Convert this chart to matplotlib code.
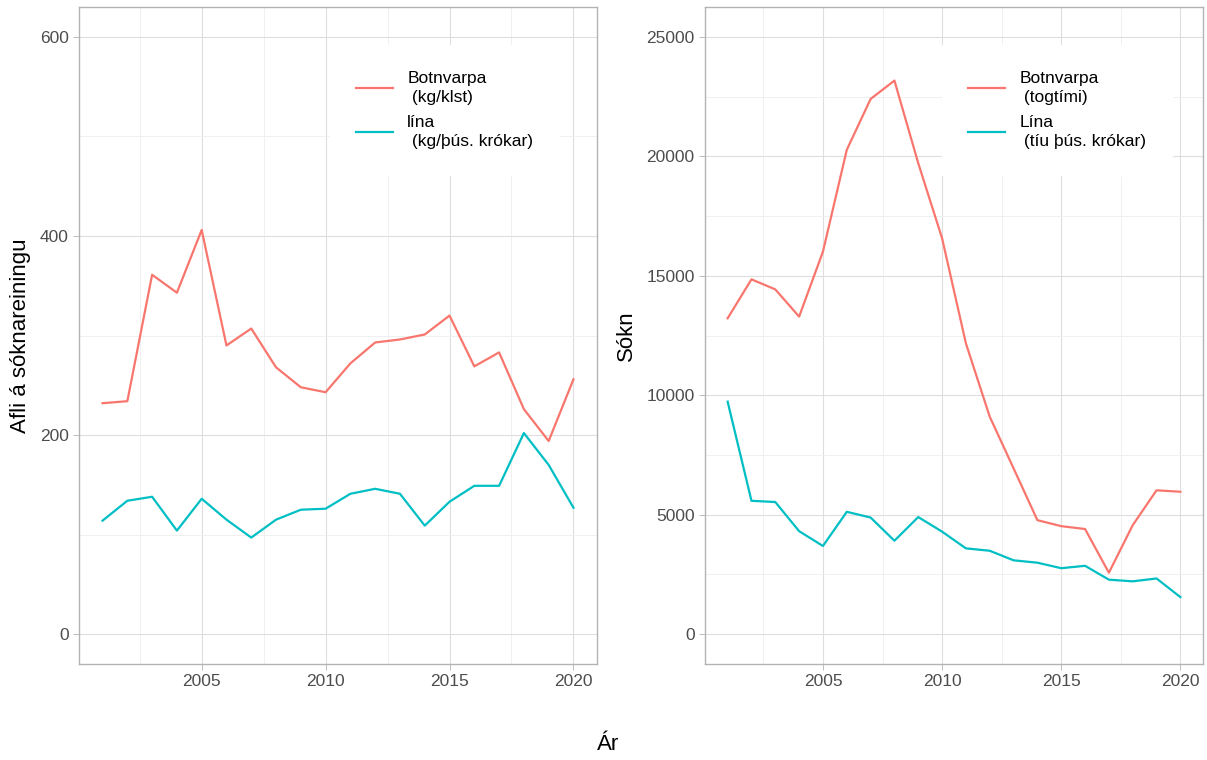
import matplotlib
matplotlib.use('agg')
from matplotlib import pyplot as plt
import numpy as np

plt.rcParams['font.family'] = ['Liberation Sans', 'DejaVu Sans']

years = list(range(2001, 2021))

# Afli á sóknareiningu
cpue_trawl = [232, 234, 361, 343, 406, 290, 307, 268, 248, 243,
              272, 293, 296, 301, 320, 269, 283, 226, 194, 256]
cpue_line = [114, 134, 138, 104, 136, 115, 97, 115, 125, 126,
             141, 146, 141, 109, 133, 149, 149, 202, 170, 127]

# Sókn
effort_trawl = [13220, 14850, 14430, 13290, 16010, 20270, 22400, 23170, 19710, 16570,
                12170, 9100, 6940, 4770, 4520, 4400, 2570, 4560, 6020, 5960]
effort_line = [9730, 5580, 5530, 4310, 3690, 5120, 4880, 3910, 4900, 4290,
               3590, 3490, 3090, 2990, 2760, 2860, 2280, 2210, 2330, 1550]

labels_cpue = ['Botnvarpa\n (kg/klst)', 'lína\n (kg/þús. krókar)']
labels_effort = ['Botnvarpa\n (togtími)', 'Lína\n (tíu þús. krókar)']

RED = '#F8766D'
TEAL = '#00BFC4'
W, H = 1207, 760


def style_panel(ax, ymax, ystep):
    ax.set_xlim(2001 - 0.95, 2020 + 0.95)
    ax.set_ylim(-0.05 * ymax, 1.05 * ymax)
    ax.set_xticks([2005, 2010, 2015, 2020])
    ax.set_xticks([2002.5, 2007.5, 2012.5, 2017.5], minor=True)
    ax.set_yticks(np.arange(0, ymax + 1, ystep))
    ax.set_yticks(np.arange(ystep / 2, ymax, ystep), minor=True)
    ax.grid(True, which='major', color='#DEDEDE', lw=0.8)
    ax.grid(True, which='minor', color='#EEEEEE', lw=0.6)
    ax.set_axisbelow(True)
    for s in ax.spines.values():
        s.set_color('#B3B3B3')
        s.set_linewidth(1.0)
    ax.tick_params(which='major', length=4.5, width=0.6, color='#B3B3B3',
                   labelsize=12.5, labelcolor='#4D4D4D', pad=3)
    ax.tick_params(which='minor', length=0)


def add_legend(ax, lines, labels, x0):
    leg = ax.legend(lines, labels, loc='upper left',
                    bbox_to_anchor=(x0 / W, 1 - 45 / H),
                    bbox_transform=ax.figure.transFigure,
                    frameon=True, fancybox=False, framealpha=1,
                    edgecolor='white', facecolor='white',
                    fontsize=12.5, handlelength=2.1, handletextpad=0.85,
                    labelspacing=0.6, borderpad=1.5, borderaxespad=0)
    for t in leg.get_texts():
        t.set_linespacing(1.3)
    return leg


fig = plt.figure(figsize=(W / 100, H / 100), dpi=100)
ax1 = fig.add_axes([79 / W, 1 - 664 / H, (597 - 79) / W, (664 - 7) / H])
ax2 = fig.add_axes([705 / W, 1 - 664 / H, (1203 - 705) / W, (664 - 7) / H])

style_panel(ax1, 600, 200)
l1, = ax1.plot(years, cpue_trawl, color=RED, lw=1.6)
l2, = ax1.plot(years, cpue_line, color=TEAL, lw=1.6)
ax1.set_ylabel('Afli á sóknareiningu', fontsize=16, labelpad=6)
add_legend(ax1, [l1, l2], labels_cpue, 330)

style_panel(ax2, 25000, 5000)
r1, = ax2.plot(years, effort_trawl, color=RED, lw=1.6)
r2, = ax2.plot(years, effort_line, color=TEAL, lw=1.6)
ax2.set_ylabel('Sókn', fontsize=16, labelpad=7)
add_legend(ax2, [r1, r2], labels_effort, 942)

fig.text(608 / W, 1 - 745 / H, 'Ár', fontsize=16, ha='center', va='center')

fig.savefig('out.png', dpi=100, facecolor='white')
